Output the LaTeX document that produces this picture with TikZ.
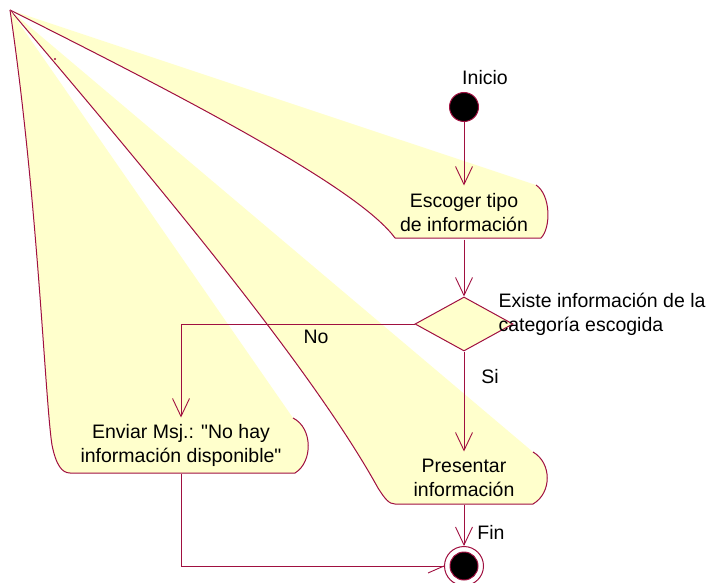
\documentclass[tikz,border=0pt]{standalone}
\usepackage{fontspec}
\setmainfont{Liberation Sans}[Ligatures=TeXOff]
\usetikzlibrary{arrows.meta,shapes.geometric}
\definecolor{lc}{RGB}{160,16,64}
\definecolor{fc}{RGB}{255,255,204}
\begin{document}
\begin{tikzpicture}[x=1pt,y=-1pt,
  line width=1pt,
  every node/.style={font=\fontsize{19.5}{24}\selectfont, inner sep=0pt},
  outline/.style={draw=lc, line join=round},
  conn/.style={draw=lc, line width=0.9pt},
  arr/.style={conn, -{Straight Barb[length=18pt,width=17pt]}},
  blob/.style={circle, draw=lc, fill=black}
]
\useasboundingbox (0,0) rectangle (707,583);
% activity shapes (top-left corner dragged to the apex)
\fill[fc] (10,10) -- (536,185) .. controls (551,195) and (551,228) .. (541,238) -- (395,238) .. controls (360,190) and (200,105) .. (10,10) -- cycle;
\draw[outline] (536,185) .. controls (551,195) and (551,228) .. (541,238) -- (395,238) .. controls (360,190) and (200,105) .. (10,10);
\fill[fc] (10,10) -- (533,452) .. controls (552,463) and (552,493) .. (533,504) -- (395,504) .. controls (389,504) and (385,499) .. (378,488) .. controls (310,365) and (150,175) .. (10,10) -- cycle;
\draw[outline] (533,452) .. controls (552,463) and (552,493) .. (533,504) -- (395,504) .. controls (389,504) and (385,499) .. (378,488) .. controls (310,365) and (150,175) .. (10,10);
\fill[fc] (10,10) -- (293,418) .. controls (313,428) and (313,462) .. (295,473) -- (70,473) .. controls (62,473) and (56,465) .. (52,445) .. controls (45,400) and (38,200) .. (10,10) -- cycle;
\draw[outline] (293,418) .. controls (313,428) and (313,462) .. (295,473) -- (70,473) .. controls (62,473) and (56,465) .. (52,445) .. controls (45,400) and (38,200) .. (10,10);
\fill[lc] (55,59) circle (1.2);
% nodes
\node[blob, minimum size=29pt] (start) at (464,107) {};
\node[anchor=base] (inicio) at (485,85) {Inicio};
\node[minimum width=140pt, minimum height=53pt, align=center] (escoger) at (464,212.5) {Escoger tipo\\de información};
\node[diamond, draw=lc, fill=fc, minimum width=98pt, minimum height=54pt] (decision) at (464,324) {};
\node[anchor=north west, align=left] (cond) at (498,293) {Existe información de la\\categoría escogida};
\node[minimum width=130pt, minimum height=52pt, align=center] (presentar) at (464,478) {Presentar\\información};
\node[minimum width=200pt, minimum height=55pt, align=center] (enviar) at (181,445.5) {Enviar Msj.: "No hay\\información disponible"};
\node[circle, draw=lc, fill=white, minimum size=39pt] (fin) at (464,566) {};
\node[blob, minimum size=28pt] (finin) at (fin.center) {};
\node[anchor=base] (si) at (490,383) {Si};
\node[anchor=base] (no) at (316,343) {No};
\node[anchor=base] (finlbl) at (491,539) {Fin};
% connectors
\draw[arr] (start) -- (escoger.north);
\draw[arr] (escoger.south) -- (decision.north);
\draw[arr] (decision.south) -- (presentar.north);
\draw[arr] (decision.west) -| (enviar.north);
\draw[arr] (presentar.south) -- (fin.north);
\draw[conn] (enviar.south) |- (fin.west);
\draw[conn] (fin.west) -- ++(-16,7);
\end{tikzpicture}
\end{document}
